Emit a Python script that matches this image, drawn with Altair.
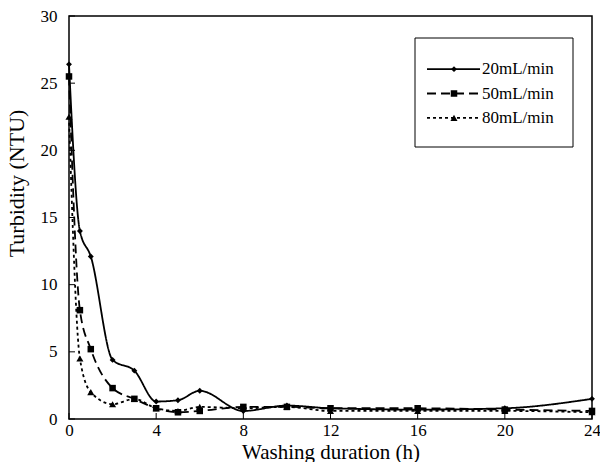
import altair as alt
import pandas as pd

hours = [0, 0.5, 1, 2, 3, 4, 5, 6, 8, 10, 12, 16, 20, 24]
s20 = [26.4, 14.0, 12.1, 4.4, 3.6, 1.3, 1.4, 2.1, 0.6, 1.0, 0.8, 0.7, 0.8, 1.5]
s50 = [25.5, 8.1, 5.2, 2.3, 1.5, 0.8, 0.5, 0.6, 0.9, 0.9, 0.8, 0.8, 0.7, 0.6]
s80 = [22.5, 4.5, 2.0, 1.1, 1.5, 0.8, 0.6, 0.9, 0.8, 0.9, 0.6, 0.6, 0.6, 0.5]
series = ["20mL/min", "50mL/min", "80mL/min"]
x_ticks = [0, 4, 8, 12, 16, 20, 24]
y_ticks = [0, 5, 10, 15, 20, 25, 30]

rows = []
for name, vals in zip(series, [s20, s50, s80]):
    for h, v in zip(hours, vals):
        rows.append({"h": h, "t": v, "s": name})
df = pd.DataFrame(rows)

W, H = 523, 403
FONT = "Liberation Serif"
dash_scale = alt.Scale(domain=series, range=[[1, 0], [9, 5], [3, 3]])
shape_scale = alt.Scale(domain=series, range=["diamond", "square", "triangle-up"])
size_scale = alt.Scale(domain=series, range=[35, 50, 45])

xenc = alt.X("h:Q", scale=alt.Scale(domain=[0, 24], nice=False),
             axis=alt.Axis(values=x_ticks, title="Washing duration (h)", tickSize=0,
                           labelPadding=3, titlePadding=3, grid=False, domain=False,
                           labelFlush=False))
yenc = alt.Y("t:Q", scale=alt.Scale(domain=[0, 30], nice=False),
             axis=alt.Axis(values=y_ticks, title="Turbidity (NTU)", tickSize=0,
                           labelPadding=12, titlePadding=12, grid=False, domain=False,
                           labelFlush=False, titleY=167, titleFontSize=22))

lines = alt.Chart(df).mark_line(interpolate="monotone", color="black", strokeWidth=1.8).encode(
    x=xenc, y=yenc,
    strokeDash=alt.StrokeDash("s:N", scale=dash_scale, legend=None),
    detail="s:N",
)
points = alt.Chart(df).mark_point(filled=True, color="black", opacity=1).encode(
    x="h:Q", y="t:Q",
    shape=alt.Shape("s:N", scale=shape_scale, legend=None),
    size=alt.Size("s:N", scale=size_scale, legend=None),
)

xt = pd.DataFrame({"v": x_ticks})
yt = pd.DataFrame({"v": y_ticks})
xticks = alt.Chart(xt).mark_rule(color="black").encode(
    x="v:Q", y=alt.value(H), y2=alt.value(H - 6))
yticks = alt.Chart(yt).mark_rule(color="black").encode(
    y="v:Q", x=alt.value(0), x2=alt.value(6))

# legend
leg = pd.DataFrame({"s": series})
ly = alt.Y("s:N", scale=alt.Scale(domain=series, range=[41, 114]), axis=None)
box = alt.Chart(pd.DataFrame({"a": [0]})).mark_rect(fill="white", stroke="black", strokeWidth=1).encode(
    x=alt.value(346), x2=alt.value(504), y=alt.value(22), y2=alt.value(131))
leg_lines = alt.Chart(leg).mark_rule(color="black", strokeWidth=1.8).encode(
    x=alt.value(358), x2=alt.value(411), y=ly,
    strokeDash=alt.StrokeDash("s:N", scale=dash_scale, legend=None))
leg_pts = alt.Chart(leg).mark_point(filled=True, color="black", opacity=1).encode(
    x=alt.value(385), y=ly,
    shape=alt.Shape("s:N", scale=shape_scale, legend=None),
    size=alt.Size("s:N", scale=size_scale, legend=None))
leg_txt = alt.Chart(leg).mark_text(align="left", baseline="middle", font=FONT, fontSize=17, color="black").encode(
    x=alt.value(413), y=ly, text="s:N")
legend = alt.layer(box, leg_lines, leg_pts, leg_txt)

main = alt.layer(lines, points, xticks, yticks)

chart = alt.layer(main, legend).resolve_scale(y="independent").properties(
    width=W, height=H,
    autosize=alt.AutoSizeParams(type="none"),
    padding={"left": 69, "top": 16, "right": 8, "bottom": 43},
).configure_view(stroke="black", strokeWidth=1.5).configure_axis(
    labelFont=FONT, titleFont=FONT, labelFontSize=17, titleFontSize=21,
    labelColor="black", titleColor="black", titleFontWeight="normal",
)

chart.save("out.html", embed_options={"renderer": "svg", "actions": False})
